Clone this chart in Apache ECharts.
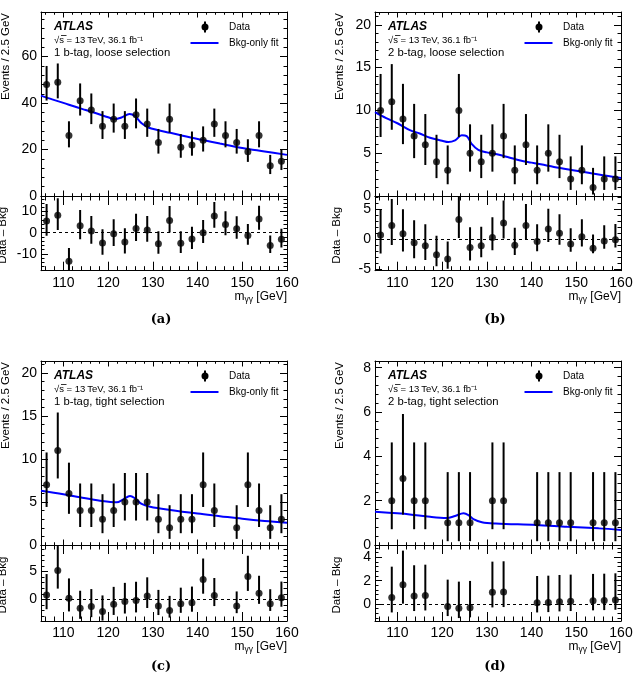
<!DOCTYPE html>
<html>
<head>
<meta charset="utf-8">
<script src="https://cdn.jsdelivr.net/npm/echarts@6/dist/echarts.min.js"></script>
<style>
  html, body { margin: 0; padding: 0; background: #fff; }
  #chart { width: 635px; height: 674px; }
</style>
</head>
<body>
<div id="chart"></div>
<script>
// m_yy bin centres, 2.5 GeV bins from 105 to 160
var mass = [106.25, 108.75, 111.25, 113.75, 116.25, 118.75, 121.25, 123.75, 126.25, 128.75, 131.25,
            133.75, 136.25, 138.75, 141.25, 143.75, 146.25, 148.75, 151.25, 153.75, 156.25, 158.75];

// (a) 1 b-tag, loose
var dataA = [48, 49, 26, 41, 37, 30, 33, 30, 35, 31, 23, 33, 21, 22, 24, 31, 26, 23, 19, 26, 13, 15];
var resA  = [5.5, 8.2, -13.4, 3.3, 0.8, -4.9, -0.5, -4.4, 2.0, 1.3, -5.2, 5.8, -5.0, -3.0, 0.0, 7.9, 3.9, 1.9, -1.3, 6.5, -6.0, -3.1];
var fitMassA = [105, 107.5, 110, 112.5, 115, 117.5, 120, 121.5, 123, 124.8, 126, 127.5, 129, 131, 133.9, 137.5, 141, 145, 150, 155, 160];
var fitA     = [43.2, 41.6, 40.1, 38.5, 37.0, 35.5, 33.9, 33.1, 33.8, 35.3, 34.4, 31.3, 29.5, 28.4, 27.2, 25.6, 24.2, 22.6, 20.7, 19.2, 17.7];

// (b) 2 b-tag, loose
var dataB = [10, 11, 9, 7, 6, 4, 3, 10, 5, 4, 5, 7, 3, 6, 3, 5, 4, 2, 3, 1, 2, 2];
var resB  = [0.7, 2.3, 0.9, -0.6, -1.1, -2.6, -3.3, 3.3, -1.4, -1.1, 0.3, 2.7, -1.0, 2.3, -0.4, 1.7, 1.0, -0.8, 0.4, -1.5, -0.3, -0.1];
var fitMassB = [105, 107.5, 110, 112.8, 115, 117.3, 120, 121.4, 122.9, 124.4, 125.5, 126.6, 128.1, 130, 132.5, 135, 137.5, 140, 145, 150, 155, 160];
var fitB     = [9.8, 9.1, 8.5, 7.7, 7.3, 6.8, 6.45, 6.3, 6.5, 7.1, 7.0, 6.1, 5.4, 5.1, 4.85, 4.5, 4.15, 3.9, 3.4, 2.95, 2.5, 2.1];

// (c) 1 b-tag, tight
var dataC = [7, 11, 6, 4, 4, 3, 4, 5, 5, 5, 3, 2, 3, 3, 7, 4, null, 2, 7, 4, 2, 3];
var resC  = [0.8, 5.2, 0.2, -1.6, -1.3, -2.2, -0.9, -0.4, -0.2, 0.6, -1.2, -2.0, -0.8, -0.6, 3.6, 0.7, null, -1.2, 4.1, 1.1, -0.8, 0.3];
var fitMassC = [105, 110, 113.7, 118.2, 121.9, 123.4, 124.9, 126, 127.5, 129.4, 133.9, 140, 145, 150, 155, 160];
var fitC     = [6.3, 5.9, 5.55, 5.15, 4.96, 5.31, 5.7, 5.43, 4.77, 4.45, 4.07, 3.65, 3.35, 3.05, 2.8, 2.6];

// (d) 2 b-tag, tight
var dataD = [null, 2, 3, 2, 2, null, 1, 1, 1, null, 2, 2, null, null, 1, 1, 1, 1, null, 1, 1, 1];
var resD  = [null, 0.57, 1.66, 0.69, 0.74, null, -0.2, -0.37, -0.31, null, 1.0, 1.03, null, null, 0.11, 0.14, 0.2, 0.23, null, 0.29, 0.31, 0.34];
var fitMassD = [105, 110, 112.8, 117.3, 121, 122.9, 124.8, 125.9, 127, 128.9, 132, 141, 148, 155, 160];
var fitD     = [1.5, 1.43, 1.38, 1.27, 1.22, 1.31, 1.43, 1.35, 1.17, 1.03, 0.97, 0.9, 0.82, 0.75, 0.68];

// tick values
var xMajor = [110, 120, 130, 140, 150, 160];
var xMinor = [106, 108, 112, 114, 116, 118, 122, 124, 126, 128, 132, 134, 136, 138, 142, 144, 146, 148, 152, 154, 156, 158];
var yMajA = [0, 20, 40, 60];
var yMinA = [4, 8, 12, 16, 24, 28, 32, 36, 44, 48, 52, 56, 64, 68, 72, 76];
var rMajA = [-10, 0, 10];
var rMinA = [-16, -14, -12, -8, -6, -4, -2, 2, 4, 6, 8, 12, 14, 16];
var yMajB = [0, 5, 10, 15, 20];
var yMinB = [1, 2, 3, 4, 6, 7, 8, 9, 11, 12, 13, 14, 16, 17, 18, 19, 21];
var rMajB = [-5, 0, 5];
var rMinB = [-4, -3, -2, -1, 1, 2, 3, 4, 6, 7];
var rMajC = [0, 5];
var rMinC = [-3, -2, -1, 1, 2, 3, 4, 6, 7, 8, 9];
var yMajD = [0, 2, 4, 6, 8];
var yMinD = [0.4, 0.8, 1.2, 1.6, 2.4, 2.8, 3.2, 3.6, 4.4, 4.8, 5.2, 5.6, 6.4, 6.8, 7.2, 7.6];
var rMajD = [0, 2, 4];
var rMinD = [-1.2, -0.8, -0.4, 0.4, 0.8, 1.2, 1.6, 2.4, 2.8, 3.2, 3.6, 4.4, 4.8];

var labels = ['1 b-tag, loose selection', '2 b-tag, loose selection', '1 b-tag, tight selection', '2 b-tag, tight selection'];
var captions = ['(a)', '(b)', '(c)', '(d)'];

// Poisson 68% interval (Wilson-Hilferty approx. of Garwood)
function poisLo(n) { if (n <= 0) return 0; var t = 1 - 1 / (9 * n) - 1 / (3 * Math.sqrt(n)); return n - n * t * t * t; }
function poisHi(n) { var m = n + 1; var t = 1 - 1 / (9 * m) + 1 / (3 * Math.sqrt(m)); return m * t * t * t - n; }

var panels = [
  { L: 41,  R: 287, T: 12,  MB: 196, RB: 270.7, cap: 320, data: dataA, res: resA, fx: fitMassA, fy: fitA,
    ymax: 79.2, yMaj: yMajA, yMin: yMinA, rmin: -17.9, rmax: 17.3, rMaj: rMajA, rMin: rMinA },
  { L: 375, R: 621, T: 12,  MB: 196, RB: 270.7, cap: 320, data: dataB, res: resB, fx: fitMassB, fy: fitB,
    ymax: 21.5, yMaj: yMajB, yMin: yMinB, rmin: -5.25, rmax: 7.2, rMaj: rMajB, rMin: rMinB },
  { L: 41,  R: 287, T: 361, MB: 545, RB: 621, cap: 667, data: dataC, res: resC, fx: fitMassC, fy: fitC,
    ymax: 21.4, yMaj: yMajB, yMin: yMinB, rmin: -3.9, rmax: 9.8, rMaj: rMajC, rMin: rMinC },
  { L: 375, R: 621, T: 361, MB: 545, RB: 621, cap: 667, data: dataD, res: resD, fx: fitMassD, fy: fitD,
    ymax: 8.3, yMaj: yMajD, yMin: yMinD, rmin: -1.45, rmax: 5.05, rMaj: rMajD, rMin: rMinD }
];

var FONT = '"Liberation Sans", Arial, Helvetica, sans-serif';
var option = { animation: false, backgroundColor: '#fff', grid: [], xAxis: [], yAxis: [], series: [], graphic: [] };

function tickAxis(g, pos, min, max, maj, mnr, majLen, mnrLen, showLab, isX) {
  var base = { gridIndex: g, type: 'value', position: pos, min: min, max: max, splitLine: { show: false } };
  var a = Object.assign({}, base, {
    axisLine: { show: true, onZero: false, lineStyle: { color: '#000', width: 1 } },
    axisTick: { show: true, inside: true, length: majLen, customValues: maj, lineStyle: { color: '#000', width: 1 } },
    axisLabel: { show: showLab, customValues: maj, color: '#000', fontFamily: FONT, fontSize: 14, margin: isX ? 5 : 4 }
  });
  var b = Object.assign({}, base, {
    axisLine: { show: false, onZero: false },
    axisTick: { show: true, inside: true, length: mnrLen, customValues: mnr, lineStyle: { color: '#000', width: 1 } },
    axisLabel: { show: false }
  });
  var list = isX ? option.xAxis : option.yAxis;
  var idx = list.length;
  list.push(a, b);
  return idx;
}

function addPad(L, R, top, bottom, ymin, ymax, yMaj, yMin, xLab, xML) {
  var g = option.grid.length;
  option.grid.push({ left: L, top: top, width: R - L, height: bottom - top, outerBoundsMode: 'none', containLabel: false });
  var xi = tickAxis(g, 'bottom', 105, 160, xMajor, xMinor, xML, xML / 2, xLab, true);
  tickAxis(g, 'top', 105, 160, xMajor, xMinor, xML, xML / 2, false, true);
  var yi = tickAxis(g, 'left', ymin, ymax, yMaj, yMin, 7, 3.5, true, false);
  tickAxis(g, 'right', ymin, ymax, yMaj, yMin, 7, 3.5, false, false);
  return { x: xi, y: yi, ymin: ymin, ymax: ymax };
}

function errBars(ax, pts) {
  return {
    type: 'custom', xAxisIndex: ax.x, yAxisIndex: ax.y, z: 3, silent: true, clip: true,
    data: pts, encode: { x: 0, y: 1 },
    renderItem: function (params, api) {
      var x = api.value(0), y = api.value(1);
      var lo = Math.max(y - api.value(2), ax.ymin), hi = Math.min(y + api.value(3), ax.ymax);
      if (hi <= ax.ymin || lo >= ax.ymax) return null;
      var p1 = api.coord([x, lo]), p2 = api.coord([x, hi]);
      return { type: 'line', shape: { x1: p1[0], y1: p1[1], x2: p2[0], y2: p2[1] },
               style: { stroke: '#000', lineWidth: 2 } };
    }
  };
}

function txt(x, y, text, font, align, extra) {
  var o = { type: 'text', x: x, y: y, silent: true,
            style: { text: text, font: font, fill: '#000', align: align || 'left', verticalAlign: 'middle' } };
  return Object.assign(o, extra || {});
}

panels.forEach(function (p, k) {
  var main = addPad(p.L, p.R, p.T, p.MB, 0, p.ymax, p.yMaj, p.yMin, false, 5.5);
  var rat = addPad(p.L, p.R, p.MB, p.RB, p.rmin, p.rmax, p.rMaj, p.rMin, true, 9);

  var fit = p.fx.map(function (x, i) { return [x, p.fy[i]]; });
  var pts = [], bars = [], rpts = [], rbars = [];
  mass.forEach(function (m, i) {
    var n = p.data[i];
    if (n === null) return;
    pts.push([m, n]);
    bars.push([m, n, poisLo(n), poisHi(n)]);
    rpts.push([m, p.res[i]]);
    rbars.push([m, p.res[i], poisLo(n), poisHi(n)]);
  });

  option.series.push(
    { type: 'line', xAxisIndex: main.x, yAxisIndex: main.y, data: fit, symbol: 'none', smooth: 0.35,
      clip: true, z: 2, silent: true, lineStyle: { color: '#0000ff', width: 2 } },
    errBars(main, bars),
    { type: 'scatter', xAxisIndex: main.x, yAxisIndex: main.y, data: pts, symbol: 'circle', symbolSize: 7,
      clip: true, z: 4, silent: true, itemStyle: { color: '#000' } },
    errBars(rat, rbars),
    { type: 'scatter', xAxisIndex: rat.x, yAxisIndex: rat.y, data: rpts, symbol: 'circle', symbolSize: 7,
      clip: true, z: 4, silent: true, itemStyle: { color: '#000' },
      markLine: { silent: true, symbol: 'none', label: { show: false }, animation: false,
                  lineStyle: { color: '#000', width: 1, type: [3, 3] }, data: [{ yAxis: 0 }] } }
  );

  var G = option.graphic;
  // labels inside the frame
  G.push(txt(p.L + 13, p.T + 15, 'ATLAS', 'italic bold 12px ' + FONT));
  G.push(txt(p.L + 13, p.T + 28.5, '\u221As = 13\u2009TeV, 36.1 fb\u207B\u00B9', '9.5px ' + FONT));
  G.push({ type: 'line', silent: true, shape: { x1: p.L + 20, y1: p.T + 23.5, x2: p.L + 25.5, y2: p.T + 23.5 },
           style: { stroke: '#000', lineWidth: 0.8 } });
  G.push(txt(p.L + 13, p.T + 41, labels[k], '11.3px ' + FONT));
  // legend
  G.push({ type: 'circle', silent: true, shape: { cx: p.R - 82, cy: p.T + 15, r: 3.5 }, style: { fill: '#000' } });
  G.push({ type: 'line', silent: true, shape: { x1: p.R - 82, y1: p.T + 9.5, x2: p.R - 82, y2: p.T + 20.5 },
           style: { stroke: '#000', lineWidth: 2 } });
  G.push(txt(p.R - 58, p.T + 15, 'Data', '10px ' + FONT));
  G.push({ type: 'line', silent: true, shape: { x1: p.R - 96.5, y1: p.T + 31, x2: p.R - 68.5, y2: p.T + 31 },
           style: { stroke: '#0000ff', lineWidth: 2 } });
  G.push(txt(p.R - 58, p.T + 31, 'Bkg-only fit', '10px ' + FONT));
  // axis titles
  G.push(txt(p.L - 35, p.T + 1, 'Events / 2.5 GeV', '11.5px ' + FONT, 'right', { rotation: Math.PI / 2 }));
  G.push(txt(p.L - 38, (p.MB + p.RB) / 2 + 2, 'Data \u2013 Bkg', '11.5px ' + FONT, 'center', { rotation: Math.PI / 2 }));
  G.push({ type: 'text', x: p.R, y: p.RB + 26, silent: true,
           style: { text: '{m|m}{s|\u03B3\u03B3} {m|[GeV]}', align: 'right', verticalAlign: 'middle', fill: '#000',
                    rich: { m: { fontSize: 12, fontFamily: FONT, fill: '#000' },
                            s: { fontSize: 8.5, fontFamily: FONT, fill: '#000', padding: [6, 0, 0, 0] } } } });
  G.push(txt((p.L + p.R) / 2 - 3, p.cap, captions[k], 'bold 13px "DejaVu Serif", serif', 'center'));
});

var chart = echarts.init(document.getElementById('chart'), null, { renderer: 'canvas' });
chart.setOption(option);
</script>
</body>
</html>
